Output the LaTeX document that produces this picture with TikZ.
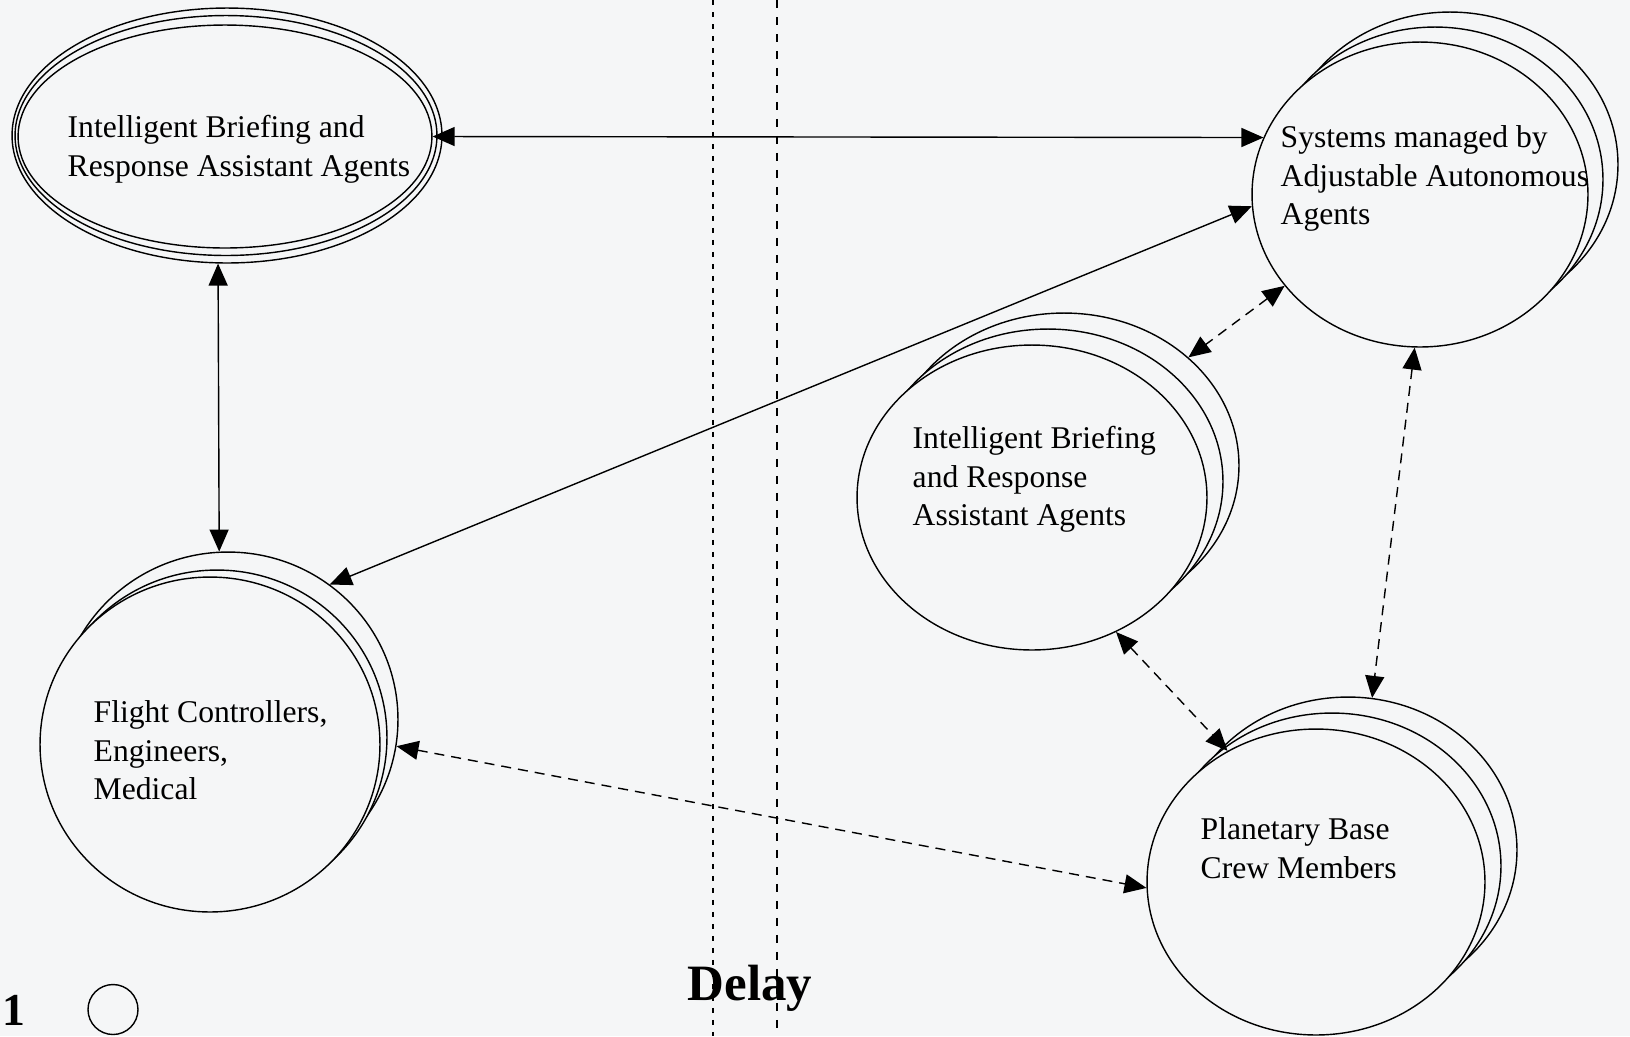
\documentclass[tikz,border=0pt]{standalone}
\usepackage{fontspec}
\setmainfont{Liberation Serif}
\usepackage{tikz}
\usetikzlibrary{arrows.meta}
\usetikzlibrary{calc}
\usetikzlibrary{shapes.geometric}
\definecolor{paper}{RGB}{245,246,247}

\begin{document}
\begin{tikzpicture}
		[x=0.02cm, y=-0.02cm, line width=0.8pt,
		agent/.style={draw, ellipse, fill=paper, inner sep=0pt},
		sysc/.style={agent, minimum width=6.72cm, minimum height=6.1cm},
		midc/.style={agent, minimum width=7cm, minimum height=6.1cm},
		crewc/.style={agent, minimum width=6.76cm, minimum height=6.12cm},
		fcc/.style={agent, minimum width=6.8cm, minimum height=6.7cm},
		txt/.style={anchor=north west, inner sep=0pt, align=left, font=\fontsize{18}{21.9}\selectfont},
		link/.style={>={Triangle[length=0.44cm,width=0.38cm]}, <->},
		delayed/.style={link, dash pattern=on 0.2cm off 0.14cm}]
		\fill[paper] (0,0) rectangle (1630,1036);
		\useasboundingbox (0,0) rectangle (1630,1036);

		\coordinate (a) at (225,136.5);
		\coordinate (b) at (1420,194.5);
		\coordinate (c) at (1032,497.5);
		\coordinate (d) at (1316,882);
		\coordinate (e) at (210,744.5);

		% delay band
		\coordinate (l1) at (713,0);
		\coordinate (l2) at (713,1036);
		\coordinate (r1) at (777,0);
		\coordinate (r2) at (777,1036);
		\draw[dash pattern=on 0.1cm off 0.14cm] (l1) -- (l2);
		\draw[dash pattern=on 0.16cm off 0.18cm] (r1) -- (r2);

		\path
		($(a)+(2,-1)$) node[agent, minimum width=8.6cm, minimum height=5.1cm](ib3) {}
		($(a)+(1,-1)$) node[agent, minimum width=8.44cm, minimum height=4.8cm](ib2) {}
		(a) node[agent, minimum width=8.28cm, minimum height=4.46cm](ib) {}
		($(b)+(30,-30)$) node[sysc](sys3) {}
		($(b)+(15,-15)$) node[sysc](sys2) {}
		(b) node[sysc](sys) {}
		($(c)+(32,-32)$) node[midc](mid3) {}
		($(c)+(16,-16)$) node[midc](mid2) {}
		(c) node[midc](mid) {}
		($(d)+(32,-32)$) node[crewc](crew3) {}
		($(d)+(16,-16)$) node[crewc](crew2) {}
		(d) node[crewc](crew) {}
		($(e)+(18,-25)$) node[fcc](fc3) {}
		($(e)+(7,-7)$) node[fcc](fc2) {}
		(e) node[fcc](fc) {};

		\node[txt] (ibt) at (67,115) {Intelligent Briefing and\\Response Assistant Agents};
		\node[txt] (syst) at (1280,125) {Systems managed by\\Adjustable Autonomous\\Agents};
		\node[txt] (midt) at (912,426) {Intelligent Briefing\\and Response\\Assistant Agents};
		\node[txt] (crewt) at (1200,817) {Planetary Base\\Crew Members};
		\node[txt] (fct) at (93,700) {Flight Controllers,\\Engineers,\\Medical};

		\draw[link] (ib.east) to (sys.160);
		\draw[link] (ib3.-94) to (fc3.93);
		\draw[link] (sys.184) to (fc3.53);
		\draw[delayed] (sys.214) to (mid3.41);
		\draw[delayed] (sys.-92) to (crew3.81);
		\draw[delayed] (mid.-58) to (crew.124);
		\draw[delayed] (fc3.-9) to (crew.182);

		\node[anchor=base west, inner sep=0pt, font=\bfseries\fontsize{29}{34}\selectfont] (delay) at (687,1000) {Delay};
		\node[anchor=base west, inner sep=0pt, font=\bfseries\fontsize{26}{30}\selectfont] (one) at (2,1025) {1};
		\node[draw, circle, minimum size=1cm, inner sep=0pt] (unit) at (113,1009.5) {};
	\end{tikzpicture}
\end{document}
